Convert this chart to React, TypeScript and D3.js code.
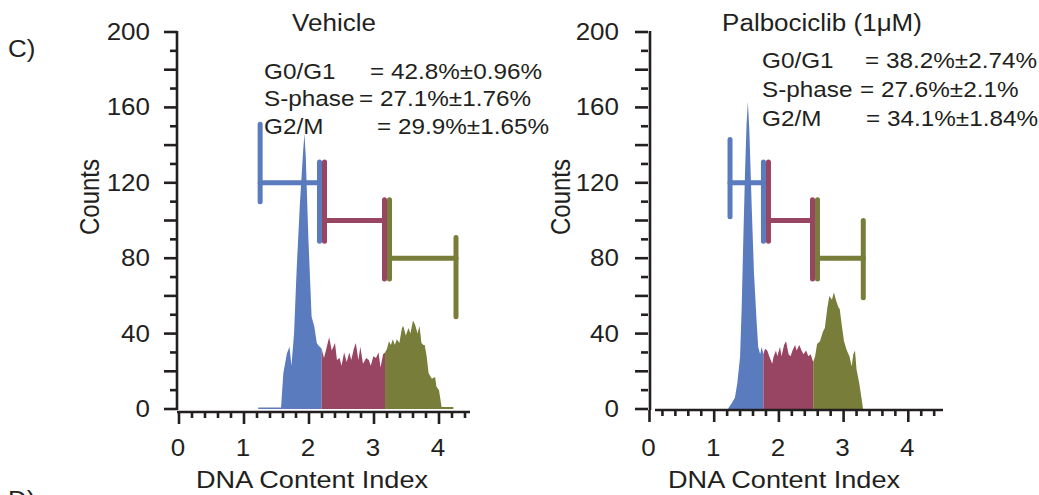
import React, { useEffect, useRef } from 'react';
import * as d3 from 'd3';

// ---- data ----
const panelTitles = ['Vehicle', 'Palbociclib (1μM)'];
const phaseNames = ['G0/G1', 'S-phase', 'G2/M'];
const vehicleStats = ['= 42.8%±0.96%', '= 27.1%±1.76%', '= 29.9%±1.65%'];
const palboStats = ['= 38.2%±2.74%', '= 27.6%±2.1%', '= 34.1%±1.84%'];
const xTickLabels = [0, 1, 2, 3, 4];
const yTickLabels = [0, 40, 80, 120, 160, 200];

// [DNA content index, counts]
const vehicleG1 = [[1.22, 0.8], [1.57, 0.8], [1.605, 19], [1.66, 29.5], [1.7, 33], [1.73, 23], [1.77, 40], [1.81, 74], [1.86, 109], [1.91, 137], [1.93, 146], [1.95, 134], [1.99, 91], [2.04, 49], [2.08, 44], [2.12, 35], [2.14, 34], [2.195, 32]];
const vehicleS = [[2.195, 32], [2.23, 27], [2.26, 31], [2.31, 38], [2.35, 31], [2.4, 35], [2.43, 26], [2.47, 27], [2.5, 23], [2.54, 30], [2.58, 25], [2.62, 30], [2.65, 26], [2.69, 32], [2.72, 35], [2.76, 26], [2.79, 33], [2.83, 24], [2.88, 27], [2.92, 26], [2.95, 23], [2.99, 28], [3.03, 27], [3.07, 30], [3.1, 22], [3.14, 29], [3.17, 30]];
const vehicleG2 = [[3.17, 30], [3.2, 32], [3.23, 36], [3.26, 34], [3.29, 37], [3.32, 34], [3.35, 37], [3.39, 35], [3.43, 43], [3.45, 44], [3.49, 39], [3.53, 43], [3.56, 40], [3.6, 47], [3.63, 45], [3.67, 40], [3.7, 44], [3.73, 35], [3.76, 34], [3.78, 34], [3.81, 28], [3.84, 19], [3.89, 16], [3.94, 17], [3.96, 12], [4.0, 10], [4.04, 1], [4.22, 1]];

const palboG1 = [[1.218, 0.4], [1.27, 3], [1.32, 6], [1.357, 13.6], [1.4, 27.7], [1.425, 54], [1.45, 90], [1.476, 125], [1.5, 151], [1.52, 163], [1.543, 148], [1.58, 107], [1.615, 72], [1.657, 45.5], [1.68, 33], [1.71, 29], [1.734, 33], [1.76, 29]];
const palboS = [[1.76, 29], [1.785, 32], [1.82, 31], [1.85, 28], [1.897, 24], [1.92, 28], [1.955, 31], [1.975, 28], [2.017, 33], [2.04, 28], [2.08, 34], [2.11, 36], [2.15, 29], [2.18, 28], [2.21, 31], [2.25, 34], [2.275, 31], [2.315, 34], [2.35, 31], [2.38, 29], [2.42, 31], [2.455, 28], [2.49, 29], [2.53, 25]];
const palboG2 = [[2.53, 25], [2.56, 28], [2.59, 34.5], [2.635, 36], [2.68, 41], [2.71, 43], [2.75, 54], [2.78, 60], [2.82, 58], [2.85, 62], [2.88, 58], [2.92, 54], [2.94, 53], [2.97, 45], [3.006, 36], [3.05, 31], [3.09, 28], [3.125, 22.6], [3.15, 29], [3.176, 31], [3.2, 21], [3.24, 14], [3.28, 5], [3.3, 0]];

// gate markers: boundaries, level, and bar extents in counts
const gateLevels = [120, 100, 80];
const vehicleGateEdges = [1.21, 2.2, 3.2, 4.3];
const vehicleLeftBars = [[151, 110], [131, 89], [111, 69]];
const vehicleRightBars = [[131, 89], [111, 69], [91, 49]];
const palboGateEdges = [1.206, 1.8, 2.558, 3.343];
const palboLeftBars = [[143, 102], [131, 89], [111, 69]];
const palboRightBars = [[131, 89], [111, 69], [100, 59]];

// ---- style ----
const colors = ['#5a7bbd', '#984463', '#787d39'];
const ink = '#231f20';
const font = '"Liberation Sans", Arial, sans-serif';
const SX = 1.13; // source figure is stretched horizontally

function txt(g, s, x, y, size, anchor = 'start') {
    return g.append('text')
        .attr('transform', `translate(${x},${y}) scale(${SX},1)`)
        .attr('font-family', font)
        .attr('font-size', size)
        .attr('fill', ink)
        .attr('text-anchor', anchor)
        .text(s);
}

function drawPanel(svg, p) {
    const x = d3.scaleLinear().domain([0, 4]).range([p.x0, p.x4]);
    const y = d3.scaleLinear().domain([0, 200]).range([409, 32]);
    const g = svg.append('g');

    // histogram by phase
    const area = d3.area<number[]>().x(d => x(d[0])).y0(y(0)).y1(d => y(d[1]));
    p.hist.forEach((seg, i) => {
        g.append('path').attr('d', area(seg)).attr('fill', colors[i]);
    });

    // gates
    for (let i = 0; i < 3; i++) {
        const xl = x(p.edges[i]) + 2.5;
        const xr = x(p.edges[i + 1]) - 2.5;
        const gg = g.append('g')
            .attr('stroke', colors[i])
            .attr('stroke-width', 5)
            .attr('stroke-linecap', 'round');
        gg.append('line').attr('x1', xl).attr('x2', xr)
            .attr('y1', y(gateLevels[i])).attr('y2', y(gateLevels[i]));
        gg.append('line').attr('x1', xl).attr('x2', xl)
            .attr('y1', y(p.leftBars[i][0])).attr('y2', y(p.leftBars[i][1]));
        gg.append('line').attr('x1', xr).attr('x2', xr)
            .attr('y1', y(p.rightBars[i][0])).attr('y2', y(p.rightBars[i][1]));
    }

    // y axis
    const ax = g.append('g').attr('stroke', ink).attr('stroke-width', 2.6);
    ax.append('line').attr('x1', p.yAxisX).attr('x2', p.yAxisX).attr('y1', y(200) - 1).attr('y2', y(0) + 1);
    d3.range(0, 201, 10).forEach(v => {
        const len = v % 20 === 0 ? 13 : 7;
        ax.append('line')
            .attr('x1', p.yAxisX - p.gap - len).attr('x2', p.yAxisX - p.gap)
            .attr('y1', y(v)).attr('y2', y(v));
    });
    yTickLabels.forEach(v => txt(g, String(v), p.yLabelX, y(v) + 8, 23, 'end'));

    // x axis
    ax.append('line').attr('x1', p.xLineStart).attr('x2', p.xLineEnd).attr('y1', p.xAxisY).attr('y2', p.xAxisY);
    d3.range(0, 23).forEach(k => {
        const v = k * 0.2;
        if (x(v) > p.xLineEnd) return;
        const len = k % 5 === 0 ? 12 : 6;
        ax.append('line').attr('x1', x(v)).attr('x2', x(v))
            .attr('y1', p.xAxisY).attr('y2', p.xAxisY + len);
    });
    xTickLabels.forEach(v => txt(g, String(v), x(v) - 1, 456, 23, 'middle'));

    // titles
    txt(g, 'DNA Content Index', p.xTitle, 488, 24, 'middle');
    g.append('text')
        .attr('transform', `translate(${p.yTitleX},197) rotate(-90) scale(1,${SX})`)
        .attr('font-family', font).attr('font-size', 24).attr('fill', ink)
        .attr('text-anchor', 'middle').text('Counts');
    txt(g, p.title, p.titleX, 31, 23, 'middle');

    // stats
    phaseNames.forEach((n, i) => {
        txt(g, n, p.statX, p.statY[i], 21.5);
        txt(g, p.stats[i], p.statValX[i], p.statY[i], 21.5);
    });
}

export default function App() {
    const ref = useRef<SVGSVGElement>(null);

    useEffect(() => {
        const svg = d3.select(ref.current);
        svg.selectAll('*').remove();

        txt(svg, 'C)', 8, 57, 23);
        txt(svg, 'D)', 8, 508, 23);

        drawPanel(svg, {
            x0: 179, x4: 439, yAxisX: 177, gap: 0, yLabelX: 150,
            xAxisY: 412, xLineStart: 177, xLineEnd: 470,
            hist: [vehicleG1, vehicleS, vehicleG2],
            edges: vehicleGateEdges, leftBars: vehicleLeftBars, rightBars: vehicleRightBars,
            title: panelTitles[0], titleX: 334, xTitle: 312, yTitleX: 99,
            stats: vehicleStats, statX: 264, statValX: [370, 359, 377], statY: [79, 106, 134],
        });
        drawPanel(svg, {
            x0: 649.5, x4: 908.3, yAxisX: 650, gap: 2, yLabelX: 619,
            xAxisY: 410, xLineStart: 655, xLineEnd: 943,
            hist: [palboG1, palboS, palboG2],
            edges: palboGateEdges, leftBars: palboLeftBars, rightBars: palboRightBars,
            title: panelTitles[1], titleX: 822, xTitle: 784, yTitleX: 570,
            stats: palboStats, statX: 762, statValX: [865, 860, 866], statY: [68, 97, 126],
        });
    }, []);

    return (
        <svg ref={ref} width={1039} height={495}
            style={{ position: 'absolute', left: 0, top: 0, background: '#fff' }} />
    );
}
